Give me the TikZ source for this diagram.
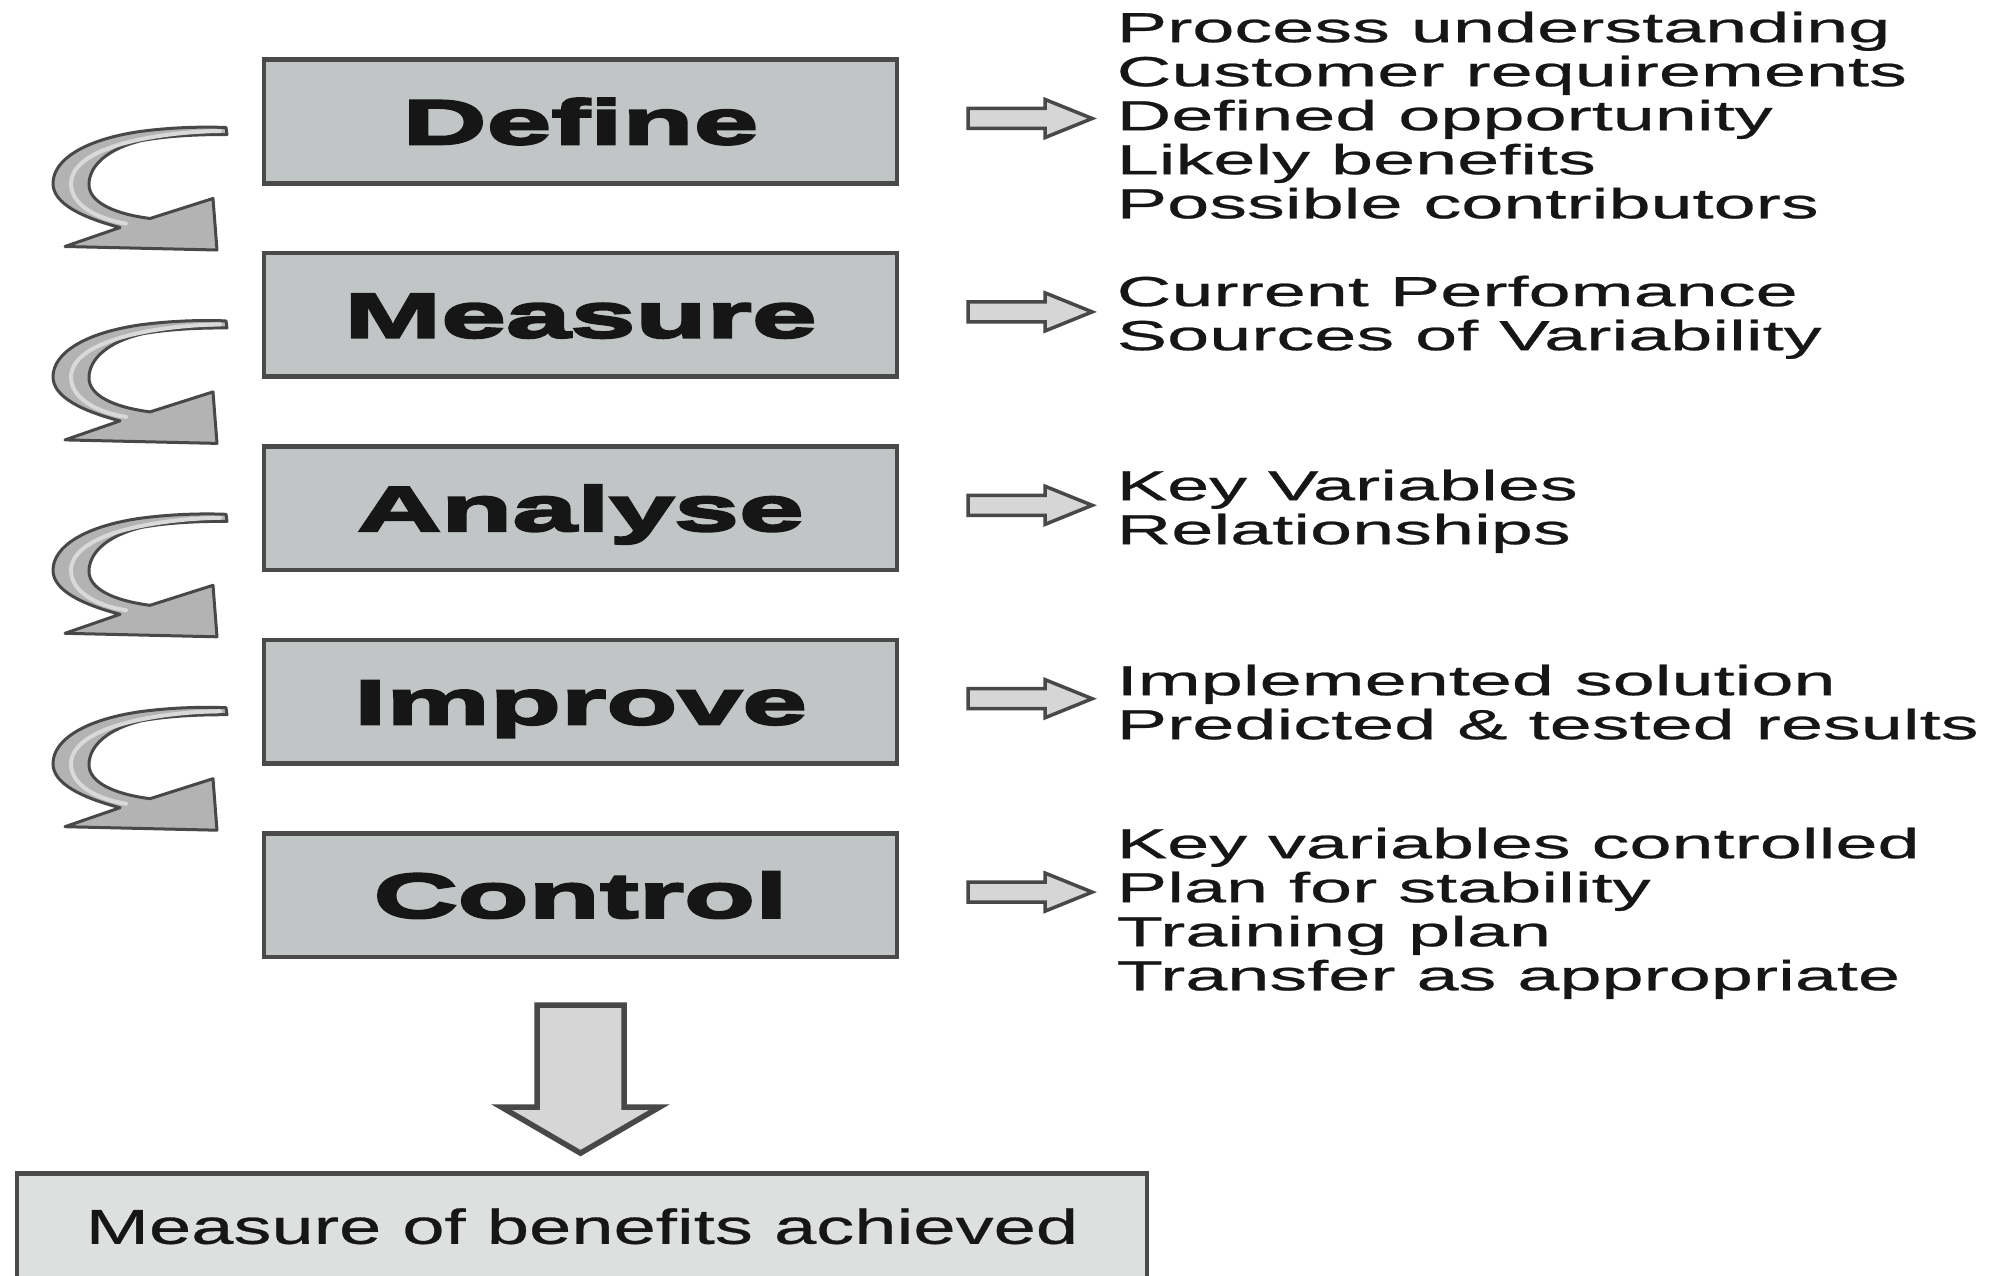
\documentclass[tikz,border=0pt]{standalone}
\usepackage{fontspec}
\setmainfont{Liberation Sans}
\newfontfamily\listfont{Liberation Sans}[FakeStretch=1.8,FakeBold=0.6]
\newfontfamily\stepfont{Liberation Sans}[FakeStretch=1.85,BoldFeatures={FakeBold=4}]
\newfontfamily\resultfont{Liberation Sans}[FakeStretch=1.55,FakeBold=0.6]
\usetikzlibrary{calc}

\definecolor{boxfill}{HTML}{C2C5C5}
\definecolor{boxline}{HTML}{4A4A4A}
\definecolor{resultfill}{HTML}{DEE0E0}
\definecolor{ink}{HTML}{161616}
\definecolor{arrowfill}{HTML}{D6D6D6}
\definecolor{arrowline}{HTML}{484848}
\definecolor{curvefill}{HTML}{B3B3B3}
\definecolor{curvelight}{HTML}{D9D9D9}

\tikzset{
  stepbox/.style={draw=boxline, line width=0.045cm, fill=boxfill,
    minimum width=6.325cm, minimum height=1.235cm, inner sep=0pt,
    text height=0.45cm, text depth=0pt, text=ink,
    font=\stepfont\bfseries\fontsize{17.9}{20}\selectfont},
  outcomes/.style={anchor=north west, inner sep=0pt, align=left, text=ink,
    font=\listfont\fontsize{11.95}{12.52}\selectfont},
  blockarrow/.style={draw=arrowline, line width=0.035cm, fill=arrowfill, line join=miter},
  bendarrow/.style={draw=arrowline, line width=0.03cm, fill=curvefill, line join=round},
}

% block arrow pointing from a step box to its list of outcomes
\newcommand\outarrow[1]{%
  \draw[blockarrow] ($(#1.east)+(69,-13)$) -- ++(77,0) -- ++(0,-9)
    -- ++(47,19) -- ++(-47,19) -- ++(0,-9) -- ++(-77,0) -- cycle;}

% curled ribbon arrow leading from one step box down to the next
\newcommand\bendarrow[1]{%
  \begin{scope}[shift={(#1.center -| o)}]
    \draw[bendarrow] (65,125) -- (120,106)
      .. controls (82,96) and (53,82) .. (53,62)
      .. controls (53,38) and (85,18) .. (140,10)
      .. controls (170,6) and (200,5) .. (226,6)
      -- (227,13)
      .. controls (200,13) and (170,14) .. (142,19)
      .. controls (108,27) and (89,44) .. (89,63)
      .. controls (89,80) and (112,92) .. (150,97)
      -- (213,77) -- (217,128.5) -- cycle;
    \draw[curvelight, line width=0.04cm, line cap=round]
      (220,9.5) .. controls (170,10) and (72,22) .. (71,62)
      .. controls (71,85) and (100,98) .. (126,102);
  \end{scope}}

\begin{document}
\begin{tikzpicture}[x=0.01cm, y=-0.01cm]
  \useasboundingbox (0,0) rectangle (2006,1276);
  \clip (0,0) rectangle (2006,1276);
  \fill[white] (0,0) rectangle (2006,1276);
  \coordinate (o) at (0,0);

  % DMAIC steps
  \node[stepbox] (define)  at (580.5,121.5) {Define};
  \node[stepbox] (measure) at (580.5,314.9) {Measure};
  \node[stepbox] (analyse) at (580.5,508.3) {Analyse};
  \node[stepbox] (improve) at (580.5,701.7) {Improve};
  \node[stepbox] (control) at (580.5,895.1) {Control};

  % outcomes of each step
  \node[outcomes] (defineout) at (1116,11) {Process understanding\\Customer requirements\\Defined opportunity\\Likely benefits\\Possible contributors};
  \node[outcomes] (measureout) at (1116,275) {Current Perfomance\\Sources of Variability};
  \node[outcomes] (analyseout) at (1116,469) {Key Variables\\Relationships};
  \node[outcomes] (improveout) at (1116,664) {Implemented solution\\Predicted \& tested results};
  \node[outcomes] (controlout) at (1116,827) {Key variables controlled\\Plan for stability\\Training plan\\Transfer as appropriate};

  \outarrow{define}
  \outarrow{measure}
  \outarrow{analyse}
  \outarrow{improve}
  \outarrow{control}

  \bendarrow{define}
  \bendarrow{measure}
  \bendarrow{analyse}
  \bendarrow{improve}

  % final result
  \node[draw=boxline, line width=0.045cm, fill=resultfill, minimum width=11.295cm,
    minimum height=1.06cm, anchor=north, inner sep=0pt, text height=0.35cm, text depth=0pt,
    font=\resultfont\fontsize{13.94}{16}\selectfont, text=ink]
    (result) at (582,1171) {Measure of benefits achieved};

  \draw[blockarrow, line width=0.055cm]
    ($(control.south)+(-43.5,46)$) -- ++(87,0) -- ++(0,102) -- ++(35.5,0)
    -- ($(control.south)+(0,194)$) -- ($(control.south)+(-79,148)$)
    -- ++(35.5,0) -- cycle;
\end{tikzpicture}
\end{document}
